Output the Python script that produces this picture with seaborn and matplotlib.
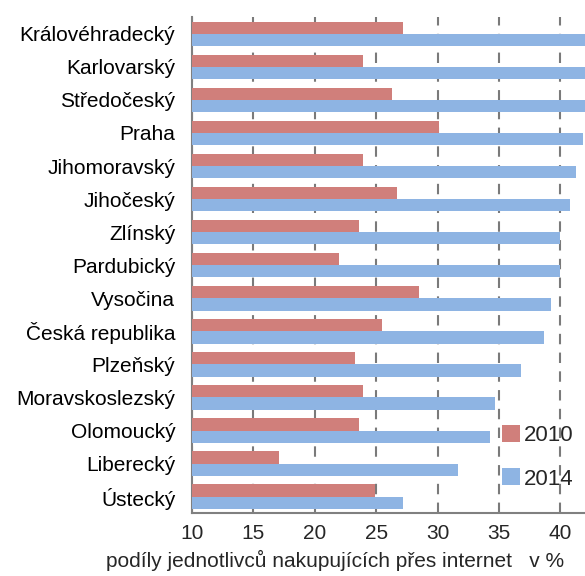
import pandas as pd
import matplotlib
matplotlib.use("Agg")
import matplotlib.pyplot as plt
import seaborn as sns

regions = ["Královéhradecký", "Karlovarský", "Středočeský", "Praha", "Jihomoravský",
           "Jihočeský", "Zlínský", "Pardubický", "Vysočina", "Česká republika",
           "Plzeňský", "Moravskoslezský", "Olomoucký", "Liberecký", "Ústecký"]
values_2010 = [27.2, 23.9, 26.3, 30.1, 23.9, 26.7, 23.6, 22.0, 28.5, 25.5,
               23.3, 23.9, 23.6, 17.1, 24.9]
values_2014 = [43.0, 43.0, 42.5, 41.8, 41.3, 40.8, 40.0, 40.0, 39.2, 38.7,
               36.8, 34.7, 34.3, 31.7, 27.2]
years = ["2010", "2014"]
colors = ["#D07F7B", "#8EB4E3"]

df = pd.DataFrame({
    "region": regions * 2,
    "value": values_2010 + values_2014,
    "year": [years[0]] * len(regions) + [years[1]] * len(regions),
})

sns.set_style("white")
plt.rcParams["font.family"] = ["Liberation Sans", "DejaVu Sans"]

fig = plt.figure(figsize=(5.85, 5.76), dpi=100)
ax = fig.add_axes([0.328, 0.109, 0.672, 0.861])

sns.barplot(data=df, y="region", x="value", hue="year", order=regions,
            palette=colors, width=0.74, ax=ax, saturation=1, zorder=3,
            linewidth=0, gap=0)

ax.set_xlim(10, 42)
ax.set_xticks(range(10, 45, 5))
ax.set_ylim(len(regions) - 0.5, -0.5)
ax.grid(axis="x", color="#7a7a7a", linestyle=(0, (5, 4)), linewidth=1.5, zorder=0)
ax.set_axisbelow(True)

for side in ["top", "right"]:
    ax.spines[side].set_visible(False)
for side in ["left", "bottom"]:
    ax.spines[side].set_color("#808080")
    ax.spines[side].set_linewidth(1.5)

# ticks between categories on the y axis
ax.set_yticks([i - 0.5 for i in range(len(regions) + 1)], minor=True)
ax.tick_params(axis="y", which="major", length=0, labelsize=15, pad=12, colors="black")
ax.tick_params(axis="y", which="minor", length=5, color="#808080", width=1.3)
ax.tick_params(axis="x", which="major", length=5, color="#808080", width=1.3,
               labelsize=15, pad=3)

ax.set_ylabel("")
ax.set_xlabel("")
fig.text(0.573, 0.008, "podíly jednotlivců nakupujících přes internet   v %",
         ha="center", va="bottom", fontsize=15)

leg = ax.legend(loc="lower right", bbox_to_anchor=(1.0, 0.025), frameon=False,
                fontsize=16, handlelength=0.8, handleheight=0.8,
                handletextpad=0.2, labelspacing=1.0, borderaxespad=0.1)
for h in leg.legend_handles:
    h.set_edgecolor("none")

fig.savefig("out.png", dpi=100)
